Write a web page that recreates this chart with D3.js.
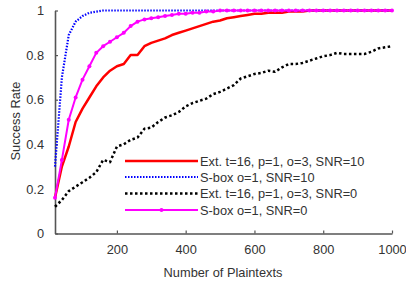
<!DOCTYPE html>
<html>
<head>
<meta charset="utf-8">
<script src="https://cdn.jsdelivr.net/npm/d3@7"></script>
<style>
  body { margin: 0; background: #fff; }
  svg { font-family: "Liberation Sans", Arial, sans-serif; }
</style>
</head>
<body>
<svg id="chart" width="406" height="283"></svg>
<script>
// numero de textos planos (eje x)
const plaintexts = d3.range(20, 1001, 20);

// Ext. t=16, p=1, o=3, SNR=10
const extSnr10 = [0.16, 0.30, 0.39, 0.50, 0.56, 0.61, 0.66, 0.70, 0.73, 0.75,
  0.76, 0.80, 0.80, 0.84, 0.855, 0.865, 0.875, 0.89, 0.90, 0.91,
  0.92, 0.93, 0.94, 0.95, 0.955, 0.965, 0.97, 0.975, 0.98, 0.985,
  0.985, 0.99, 0.99, 0.99, 0.995, 0.995, 0.995, 1, 1, 1,
  1, 1, 1, 1, 1, 1, 1, 1, 1, 1];

// S-box o=1, SNR=10
const sboxSnr10 = [0.30, 0.70, 0.89, 0.95, 0.975, 0.99, 0.995, 1, 1, 1,
  1, 1, 1, 1, 1, 1, 1, 1, 1, 1,
  1, 1, 1, 1, 1, 1, 1, 1, 1, 1,
  1, 1, 1, 1, 1, 1, 1, 1, 1, 1,
  1, 1, 1, 1, 1, 1, 1, 1, 1, 1];

// Ext. t=16, p=1, o=3, SNR=0
const extSnr0 = [0.12, 0.15, 0.19, 0.21, 0.23, 0.25, 0.275, 0.33, 0.32, 0.39,
  0.40, 0.42, 0.43, 0.47, 0.475, 0.50, 0.52, 0.53, 0.545, 0.57,
  0.585, 0.595, 0.605, 0.625, 0.635, 0.65, 0.665, 0.695, 0.705, 0.715,
  0.72, 0.73, 0.725, 0.745, 0.76, 0.76, 0.765, 0.775, 0.785, 0.795,
  0.80, 0.81, 0.805, 0.805, 0.805, 0.805, 0.815, 0.83, 0.835, 0.84];

// S-box o=1, SNR=0
const sboxSnr0 = [0.16, 0.33, 0.51, 0.61, 0.69, 0.75, 0.81, 0.84, 0.86, 0.88,
  0.90, 0.93, 0.95, 0.96, 0.965, 0.97, 0.975, 0.98, 0.985, 0.985,
  0.99, 0.99, 0.995, 0.995, 1, 1, 1, 1, 1, 1,
  1, 1, 1, 1, 1, 1, 1, 1, 1, 1,
  1, 1, 1, 1, 1, 1, 1, 1, 1, 1];

const xTicks = [200, 400, 600, 800, 1000];
const yTicks = [0, 0.2, 0.4, 0.6, 0.8, 1];

const series = [
  { label: 'Ext. t=16, p=1, o=3, SNR=10', values: extSnr10, color: '#ff0000', width: 2.5, dash: null, marker: false },
  { label: 'S-box o=1, SNR=10', values: sboxSnr10, color: '#0000ff', width: 2.2, dash: '1.5,1.5', marker: false },
  { label: 'Ext. t=16, p=1, o=3, SNR=0', values: extSnr0, color: '#000000', width: 2.5, dash: '2.5,2.5', marker: false },
  { label: 'S-box o=1, SNR=0', values: sboxSnr0, color: '#ff00ff', width: 2, dash: null, marker: true }
];

const svg = d3.select('#chart');

// escalas
const x = d3.scaleLinear().domain([20, 1000]).range([55, 392]);
const y = d3.scaleLinear().domain([0, 1]).range([233.5, 10.5]);

const font = 12.8;

// eje x
const xAxis = svg.append('g')
  .attr('transform', `translate(0,${y(0)})`)
  .call(d3.axisBottom(x).tickValues(xTicks).tickFormat(d3.format('d'))
    .tickSizeInner(-3).tickSizeOuter(0).tickPadding(11));
xAxis.select('.domain').attr('stroke', '#555').attr('stroke-width', 1.6);
xAxis.selectAll('.tick line').attr('stroke', '#555').attr('stroke-width', 1.2);
xAxis.selectAll('text').attr('font-size', font).attr('fill', '#333').attr('font-family', null);

// eje y
const yAxis = svg.append('g')
  .attr('transform', `translate(${x(20)},0)`)
  .call(d3.axisLeft(y).tickValues(yTicks).tickFormat(d => d === 0 || d === 1 ? d : d3.format('.1f')(d))
    .tickSizeInner(-3).tickSizeOuter(0).tickPadding(11));
yAxis.select('.domain').attr('stroke', '#555').attr('stroke-width', 1.6);
yAxis.selectAll('.tick line').attr('stroke', '#555').attr('stroke-width', 1.2);
yAxis.selectAll('text').attr('font-size', font).attr('fill', '#333').attr('font-family', null);

// etiquetas de los ejes
svg.append('text')
  .attr('x', 223).attr('y', 277)
  .attr('text-anchor', 'middle')
  .attr('font-size', font).attr('fill', '#333')
  .text('Number of Plaintexts');

svg.append('text')
  .attr('transform', 'translate(20,121) rotate(-90)')
  .attr('text-anchor', 'middle')
  .attr('font-size', font).attr('fill', '#333')
  .text('Success Rate');

// lineas
const line = d3.line()
  .x((d, i) => x(plaintexts[i]))
  .y(d => y(d));

const plot = svg.append('g');

series.forEach(s => {
  plot.append('path')
    .datum(s.values)
    .attr('d', line)
    .attr('fill', 'none')
    .attr('stroke', s.color)
    .attr('stroke-width', s.width)
    .attr('stroke-dasharray', s.dash)
    .attr('stroke-linejoin', 'round');

  if (s.marker) {
    plot.append('g')
      .selectAll('circle')
      .data(s.values)
      .enter().append('circle')
      .attr('cx', (d, i) => x(plaintexts[i]))
      .attr('cy', d => y(d))
      .attr('r', 2)
      .attr('fill', s.color);
  }
});

// leyenda
const legend = svg.append('g');
const rowY = [161, 177, 193.5, 210];
series.forEach((s, i) => {
  const g = legend.append('g').attr('transform', `translate(0,${rowY[i]})`);
  g.append('line')
    .attr('x1', 125).attr('x2', 198)
    .attr('y1', 0).attr('y2', 0)
    .attr('stroke', s.color)
    .attr('stroke-width', s.width)
    .attr('stroke-dasharray', s.dash);
  if (s.marker) {
    g.append('circle').attr('cx', 161.5).attr('cy', 0).attr('r', 2).attr('fill', s.color);
  }
  g.append('text')
    .attr('x', 200).attr('y', 4.5)
    .attr('font-size', font).attr('fill', '#333')
    .text(s.label);
});
</script>
</body>
</html>
